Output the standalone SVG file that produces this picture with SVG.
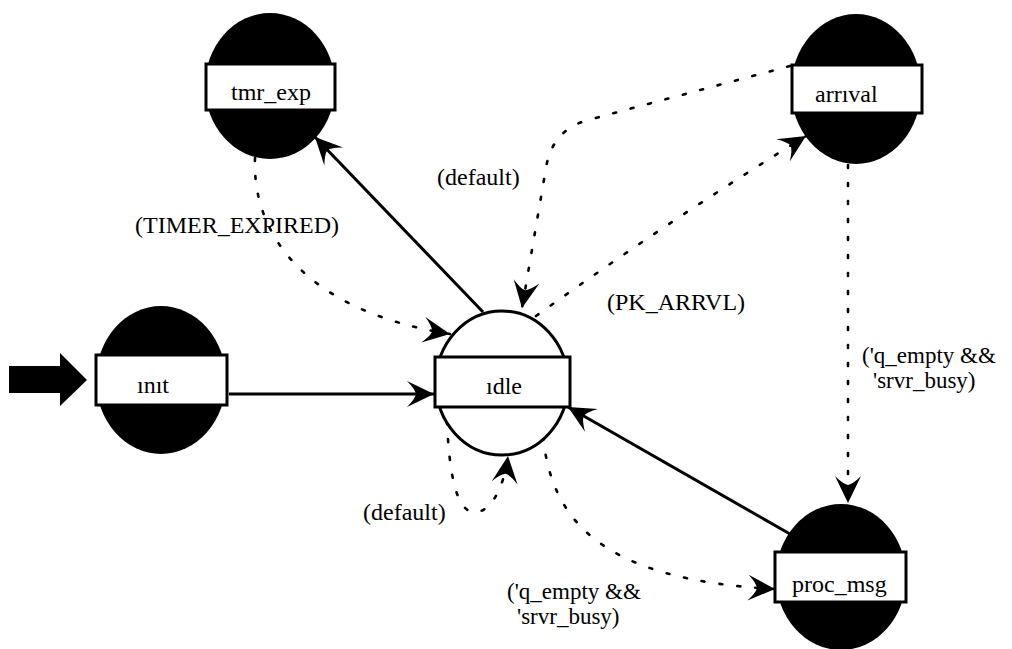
<svg xmlns="http://www.w3.org/2000/svg" width="1012" height="649" viewBox="0 0 1012 649">
  <style>
    .bg { fill: #ffffff; }
    .state-dark { fill: #000000; }
    .state-light { fill: #ffffff; stroke: #000000; stroke-width: 3; }
    .name-box { fill: #ffffff; stroke: #000000; stroke-width: 3; }
    .label { font-family: "Liberation Serif", "Times New Roman", serif; font-size: 24px; fill: #000000; }
    .cond2 { font-size: 23px; }
    .solid { fill: none; stroke: #000000; stroke-width: 3; marker-end: url(#head); }
    .dashed { fill: none; stroke: #000000; stroke-width: 2.6; stroke-dasharray: 3 15; stroke-linecap: round; marker-end: url(#head); }
  </style>
  <defs>
    <marker id="head" markerUnits="userSpaceOnUse" markerWidth="32" markerHeight="32" viewBox="-29 -16 32 32" refX="0" refY="0" orient="auto">
      <path d="M0 0 L-27 -13 Q-19 -5 -18 0 Q-19 5 -27 13 Z" fill="#000000"/>
    </marker>
  </defs>

  <rect class="bg" x="0" y="0" width="1012" height="649"/>

  <!-- entry arrow into the initial state -->
  <polygon id="entry" points="9,366 60,366 60,353 87,380 60,406 60,393 9,393" fill="#000000"/>

  <!-- transitions -->
  <g id="connectors">
    <path class="solid" d="M 229 394 L 434 394"/>
    <path class="solid" d="M 483 312 L 315 137"/>
    <path class="solid" d="M 790 534 L 568 407"/>
    <path class="dashed" d="M 255 158 C 252 230, 300 310, 450 334"/>
    <path class="dashed" d="M 790 66 L 588 120 Q 552 130 546 168 L 522 308"/>
    <path class="dashed" d="M 536 316 Q 670 220 806 136"/>
    <path class="dashed" d="M 848 165 L 848 503"/>
    <path class="dashed" d="M 543 437 C 552 520, 600 580, 775 589"/>
    <path class="dashed" d="M 447 421 C 450 495, 462 515, 478 512 C 495 508, 505 480, 508 456"/>
  </g>

  <!-- transition conditions -->
  <g id="conditions">
    <text class="label" x="135" y="233">(TIMER_EXPIRED)</text>
    <text class="label" x="437" y="185">(default)</text>
    <text class="label" x="607" y="310">(PK_ARRVL)</text>
    <text class="label cond2" x="862" y="363">('q_empty &amp;&amp;</text>
    <text class="label cond2" x="873" y="388">'srvr_busy)</text>
    <text class="label" x="363" y="520">(default)</text>
    <text class="label cond2" x="507" y="599">('q_empty &amp;&amp;</text>
    <text class="label cond2" x="517" y="624">'srvr_busy)</text>
  </g>

  <!-- states -->
  <g id="tmr_exp">
    <ellipse class="state-dark" cx="270" cy="86" rx="65" ry="73"/>
    <rect class="name-box" x="206" y="64" width="129" height="46"/>
    <text class="label" x="231" y="100">tmr_exp</text>
  </g>
  <g id="arrival">
    <ellipse class="state-dark" cx="856" cy="89" rx="65" ry="75"/>
    <rect class="name-box" x="792" y="65" width="130" height="48"/>
    <text class="label" x="815" y="102">arrıval</text>
  </g>
  <g id="init">
    <ellipse class="state-dark" cx="161" cy="380" rx="65" ry="74"/>
    <rect class="name-box" x="96" y="355" width="131" height="50"/>
    <text class="label" x="137" y="393">ınıt</text>
  </g>
  <g id="idle">
    <ellipse class="state-light" cx="502" cy="383" rx="66" ry="72"/>
    <rect class="name-box" x="435" y="357" width="135" height="50"/>
    <text class="label" x="486" y="394">ıdle</text>
  </g>
  <g id="proc_msg">
    <ellipse class="state-dark" cx="841" cy="577" rx="65" ry="73"/>
    <rect class="name-box" x="775" y="552" width="131" height="50"/>
    <text class="label" x="792" y="592">proc_msg</text>
  </g>
</svg>
